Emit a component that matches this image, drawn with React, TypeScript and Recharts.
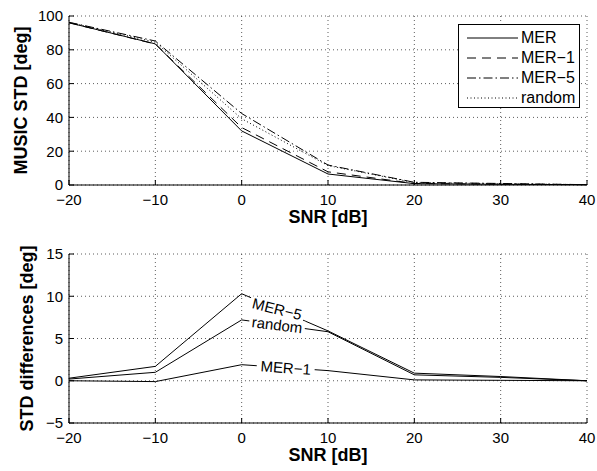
import React from 'react';
import { LineChart, Line, XAxis, YAxis, CartesianGrid, Legend } from 'recharts';

const snr = [-20, -10, 0, 10, 20, 30, 40];
const stdMER = [96, 83.5, 32, 6.5, 0.8, 0.4, 0.2];
const stdMER1 = [96, 83.4, 34, 7.8, 0.9, 0.45, 0.2];
const stdMER5 = [96.3, 85.2, 42.3, 11.8, 1.6, 0.9, 0.2];
const stdRandom = [96.2, 84.5, 39.2, 11.5, 1.4, 0.8, 0.2];

const diffMER1 = [0, -0.1, 1.9, 1.2, 0.1, 0.05, 0];
const diffMER5 = [0.3, 1.7, 10.3, 5.9, 0.9, 0.5, 0];
const diffRandom = [0.2, 1.0, 7.2, 5.8, 0.7, 0.4, 0];

const xTicks = [-20, -10, 0, 10, 20, 30, 40];
const yTicksTop = [0, 20, 40, 60, 80, 100];
const yTicksBottom = [-5, 0, 5, 10, 15];

const seriesNames = ['MER', 'MER\u22121', 'MER\u22125', 'random'];
const dashes = [undefined, '9 6', '9 3 1.5 3', '1 2.5'];

const topData = snr.map((s, i) => ({
  snr: s,
  mer: stdMER[i],
  mer1: stdMER1[i],
  mer5: stdMER5[i],
  random: stdRandom[i],
}));

const bottomData = snr.map((s, i) => ({
  snr: s,
  mer1: diffMER1[i],
  mer5: diffMER5[i],
  random: diffRandom[i],
}));

const FONT = '"Liberation Sans", Arial, Helvetica, sans-serif';
const fmt = (v: number) => String(v).replace('-', '\u2212');
const tickStyle = { fill: '#000', fontSize: 15, fontFamily: FONT };

const xLabel = (props: any) => {
  const vb = props.viewBox || {};
  return (
    <text
      x={vb.x + vb.width / 2}
      y={vb.y + 32}
      dy="0.35em"
      textAnchor="middle"
      fontSize={18}
      fontWeight="bold"
      fontFamily={FONT}
      fill="#000"
    >
      SNR [dB]
    </text>
  );
};

const yLabel = (text: string, cxAbs: number) => (props: any) => {
  const vb = props.viewBox || {};
  const cy = vb.y + vb.height / 2;
  return (
    <text
      x={cxAbs}
      y={cy}
      dy="0.35em"
      textAnchor="middle"
      fontSize={18}
      fontWeight="bold"
      fontFamily={FONT}
      fill="#000"
      transform={`rotate(-90, ${cxAbs}, ${cy})`}
    >
      {text}
    </text>
  );
};

const LegendBox = () => (
  <div
    style={{
      border: '1px solid #000',
      background: '#fff',
      width: 122,
      height: 84,
      boxSizing: 'border-box',
      fontFamily: FONT,
      fontSize: 16,
      paddingTop: 3,
    }}
  >
    {seriesNames.map((n, i) => (
      <div key={n} style={{ display: 'flex', alignItems: 'center', height: 20 }}>
        <svg width={58} height={10} style={{ marginLeft: 8 }}>
          <line x1={0} y1={5} x2={51} y2={5} stroke="#000" strokeWidth={1} strokeDasharray={dashes[i]} />
        </svg>
        <span style={{ marginLeft: -4 }}>{n}</span>
      </div>
    ))}
  </div>
);

const inlineLabel = (name: string, angle: number, t: number, w: number) => (props: any) => {
  const { index, points } = props;
  if (index !== 2 || !points || !points[3]) return <g key={`dot-${name}-${index}`} />;
  const p = points[2];
  const q = points[3];
  const mx = p.x + (q.x - p.x) * t;
  const my = p.y + (q.y - p.y) * t;
  return (
    <g key={`dot-${name}-${index}`} transform={`translate(${mx},${my}) rotate(${angle})`}>
      <rect x={-w / 2} y={-6.5} width={w} height={13} fill="#fff" />
      <text textAnchor="middle" dy="0.36em" fontSize={15} fontFamily={FONT} fill="#000">
        {name}
      </text>
    </g>
  );
};

export default function App() {
  return (
    <div
      style={{
        position: 'absolute',
        left: 0,
        top: 0,
        width: 597,
        height: 471,
        overflow: 'hidden',
        fontFamily: FONT,
        background: '#fff',
      }}
    >
      <LineChart width={597} height={233} data={topData} margin={{ top: 16, right: 10, left: 29, bottom: 18 }}>
        <CartesianGrid stroke="#333" strokeDasharray="1 3" strokeWidth={0.8} />
        <XAxis
          dataKey="snr"
          type="number"
          domain={[-20, 40]}
          ticks={xTicks}
          interval={0}
          tickFormatter={fmt}
          tickSize={-5}
          tickMargin={14}
          tick={tickStyle}
          stroke="#000"
          height={30}
          label={xLabel}
        />
        <XAxis
          xAxisId="top"
          orientation="top"
          dataKey="snr"
          type="number"
          domain={[-20, 40]}
          ticks={xTicks}
          interval={0}
          tickSize={-5}
          tick={false}
          stroke="#000"
          height={0}
        />
        <YAxis
          type="number"
          domain={[0, 100]}
          ticks={yTicksTop}
          interval={0}
          tickSize={-5}
          tickMargin={11}
          tick={tickStyle}
          stroke="#000"
          width={40}
          label={yLabel('MUSIC STD [deg]', 21)}
        />
        <YAxis
          yAxisId="right"
          orientation="right"
          type="number"
          domain={[0, 100]}
          ticks={yTicksTop}
          interval={0}
          tickSize={-5}
          tick={false}
          stroke="#000"
          width={0}
        />
        <Line dataKey="mer" stroke="#000" strokeWidth={1} dot={false} isAnimationActive={false} />
        <Line dataKey="mer1" stroke="#000" strokeWidth={1} strokeDasharray={dashes[1]} dot={false} isAnimationActive={false} />
        <Line dataKey="mer5" stroke="#000" strokeWidth={1} strokeDasharray={dashes[2]} dot={false} isAnimationActive={false} />
        <Line dataKey="random" stroke="#000" strokeWidth={1} strokeDasharray={dashes[3]} dot={false} isAnimationActive={false} />
        <Legend
          layout="vertical"
          align="center"
          verticalAlign="middle"
          content={() => <LegendBox />}
          wrapperStyle={{ left: 458, top: 24, width: 122, height: 84 }}
        />
      </LineChart>
      <LineChart width={597} height={238} data={bottomData} margin={{ top: 21, right: 10, left: 29, bottom: 18 }}>
        <CartesianGrid stroke="#333" strokeDasharray="1 3" strokeWidth={0.8} />
        <XAxis
          dataKey="snr"
          type="number"
          domain={[-20, 40]}
          ticks={xTicks}
          interval={0}
          tickFormatter={fmt}
          tickSize={-5}
          tickMargin={14}
          tick={tickStyle}
          stroke="#000"
          height={30}
          label={xLabel}
        />
        <XAxis
          xAxisId="top"
          orientation="top"
          dataKey="snr"
          type="number"
          domain={[-20, 40]}
          ticks={xTicks}
          interval={0}
          tickSize={-5}
          tick={false}
          stroke="#000"
          height={0}
        />
        <YAxis
          type="number"
          domain={[-5, 15]}
          ticks={yTicksBottom}
          interval={0}
          tickFormatter={fmt}
          tickSize={-5}
          tickMargin={11}
          tick={tickStyle}
          stroke="#000"
          width={40}
          label={yLabel('STD differences [deg]', 27)}
        />
        <YAxis
          yAxisId="right"
          orientation="right"
          type="number"
          domain={[-5, 15]}
          ticks={yTicksBottom}
          interval={0}
          tickSize={-5}
          tick={false}
          stroke="#000"
          width={0}
        />
        <Line dataKey="mer1" stroke="#000" strokeWidth={1} dot={inlineLabel('MER\u22121', 4, 0.51, 58)} isAnimationActive={false} />
        <Line dataKey="random" stroke="#000" strokeWidth={1} dot={inlineLabel('random', 7, 0.41, 56)} isAnimationActive={false} />
        <Line dataKey="mer5" stroke="#000" strokeWidth={1} dot={inlineLabel('MER\u22125', 14, 0.41, 56)} isAnimationActive={false} />
      </LineChart>
    </div>
  );
}
